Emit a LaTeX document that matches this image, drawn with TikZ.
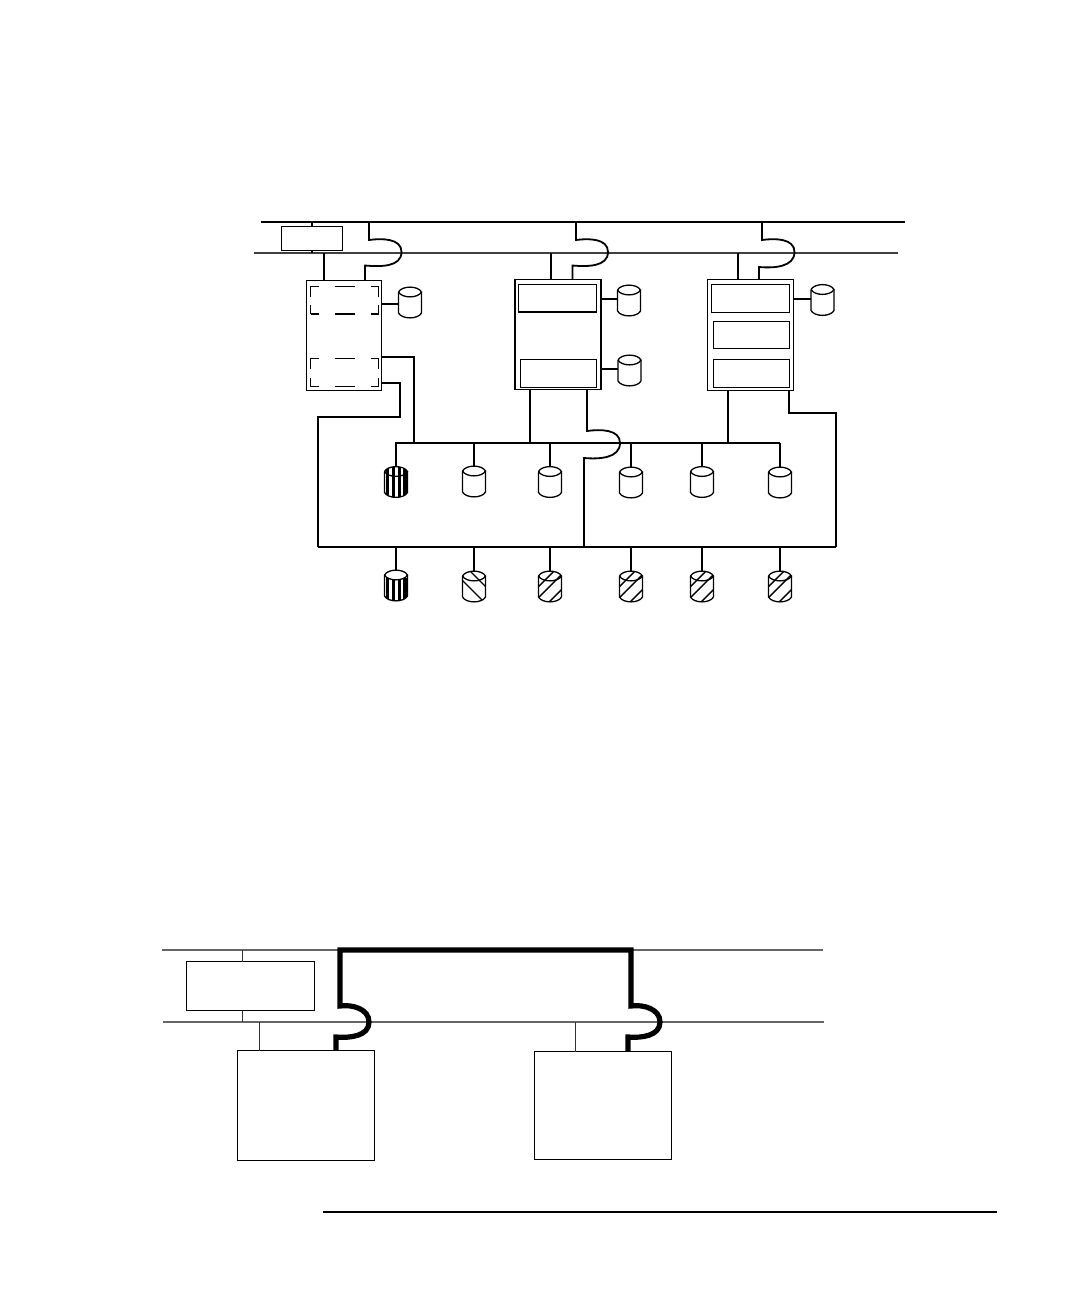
\documentclass[tikz,border=0pt]{standalone}
\usetikzlibrary{calc}
\newcommand{\bx}[6][plainbox]{\node[#1,minimum width=#5pt-#3pt,minimum height=#6pt-#4pt] (#2) at ({(#3+#5)/2},{(#4+#6)/2}) {};}
\newcommand{\cyl}[4]{%
  \node[cylspace] (#1) at (#2,#3+15.5) {};
  \begin{scope}[shift={(#2,#3)}]
    \begin{scope}
      \clip (-11.5,5) .. controls (-8,-1.5) and (8,-1.5) .. (11.5,5) -- (11.5,26) .. controls (8,32.5) and (-8,32.5) .. (-11.5,26) -- cycle;
      \ifnum#4=1
        \foreach \sx in {-10,-4.2,1.6,7.4}{\fill[black] (\sx,0) rectangle (\sx+3.1,32);}
      \fi
      \ifnum#4=2
        \foreach \sx in {-10,-4.2,1.6,7.4}{\fill[black] (\sx,8) rectangle (\sx+3.1,32);}
      \fi
      \ifnum#4=3
        \foreach \sk in {-4,-21}{\draw[hatch] (-14,-14-\sk) -- (14,14-\sk);}
      \fi
      \ifnum#4=4
        \foreach \sk in {4,15,30}{\draw[hatch] (-14,14+\sk) -- (14,-14+\sk);}
      \fi
    \end{scope}
    \draw[cylline] (-11.5,5) -- (-11.5,26) .. controls (-8,32.5) and (8,32.5) .. (11.5,26) -- (11.5,5);
    \ifnum#4=2 \fill[white] (-11.5,5) .. controls (-8,-1.5) and (8,-1.5) .. (11.5,5) .. controls (8,11.5) and (-8,11.5) .. (-11.5,5); \fi
    \draw[cylline] (-11.5,5) .. controls (-8,-1.5) and (8,-1.5) .. (11.5,5) .. controls (8,11.5) and (-8,11.5) .. (-11.5,5);
  \end{scope}}
\newcommand{\cornerbox}[5]{%
  \draw[dashseg] (#1+8,#2) -- (#1,#2) -- (#1,#2+10);
  \draw[dashseg] (#1+24,#2) -- (#1+44,#2);
  \draw[dashseg] (#3-8,#2) -- (#3,#2) -- (#3,#2+10);
  \draw[dashseg,line width=#5pt] (#1+8,#4) -- (#1,#4);
  \draw[dashseg] (#1,#4) -- (#1,#4-9);
  \draw[dashseg,line width=#5pt] (#1+24,#4) -- (#1+44,#4);
  \draw[dashseg,line width=#5pt] (#3-8,#4) -- (#3,#4);
  \draw[dashseg] (#3,#4) -- (#3,#4-9);}
\begin{document}
\begin{tikzpicture}[x=1pt,y=-1pt,
  plainbox/.style={draw,line width=1.2pt,inner sep=0pt,outer sep=0pt},
  heavybox/.style={draw,line width=1.8pt,inner sep=0pt,outer sep=0pt},
  cylspace/.style={minimum width=23pt,minimum height=31pt,inner sep=0pt,outer sep=0pt},
  link/.style={line width=1.8pt,line join=miter},
  busline/.style={line width=1.7pt},
  busgray/.style={line width=1.7pt,black!75},
  thinbus/.style={line width=1.3pt,black!60},
  thinlink/.style={line width=1.1pt,black!80},
  fatlink/.style={line width=5.2pt,line join=miter},
  cylline/.style={line width=1.3pt},
  hatch/.style={line width=1.4pt},
  dashseg/.style={line width=1pt},
  jumpin/.style={out=8,in=90},
  jumpout/.style={out=-90,in=-5}]
\useasboundingbox (0,0) rectangle (1080,1296);
\fill[white] (0,0) rectangle (1080,1296);

% upper buses
\coordinate (tl) at (261,222); \coordinate (tr) at (905,222);
\coordinate (ml) at (254,253); \coordinate (mr) at (898,253);
\coordinate (sl) at (395,443); \coordinate (sr) at (780,443);
\coordinate (bl) at (318,547); \coordinate (br) at (836,547);
\draw[busline] (tl) -- (tr);
\draw[busgray] (ml) -- (mr);

% upper boxes
\bx{conc}{281.5}{226.5}{342.5}{250.5}
\bx{srvA}{306.5}{280.5}{381.5}{390.5}
\bx[heavybox]{srvB}{515}{279.5}{601}{389.5}
\bx{srvC}{707.5}{279.5}{793.5}{390.5}
\bx[heavybox]{b1}{518.5}{284.5}{596.5}{312}
\bx{b2}{520.5}{359.5}{596.5}{387.5}
\bx[heavybox]{c1}{711.5}{284.5}{789.5}{312.5}
\bx{c2}{713.5}{321.5}{789.5}{348.5}
\bx{c3}{713.5}{359.5}{789.5}{387.5}
\cornerbox{310.5}{286.5}{378.5}{314}{1.6}
\cornerbox{310.5}{358.5}{378.5}{386.5}{1}

\draw[link] (conc.north) -- (conc.north |- tl);
\draw[link] (conc.south) -- (conc.south |- ml);

% stubs to the second bus
\coordinate (a1) at (324,0); \coordinate (a2) at (551,0); \coordinate (a3) at (738,0);
\draw[link] (a1 |- ml) -- (a1 |- srvA.north);
\draw[link] (a2 |- ml) -- (a2 |- srvB.north);
\draw[link] (a3 |- ml) -- (a3 |- srvC.north);

% jumps over the second bus
\coordinate (j1a) at (369,240); \coordinate (j1m) at (401.5,252); \coordinate (j1b) at (365,265.5);
\coordinate (j2a) at (576,240); \coordinate (j2m) at (608,252); \coordinate (j2b) at (572.5,265.5);
\coordinate (j3a) at (762,240); \coordinate (j3m) at (794.5,252); \coordinate (j3b) at (759,267);
\draw[link] (tl -| j1a) -- (j1a) to[jumpin] (j1m) to[jumpout] (j1b) -- (j1b |- srvA.north);
\draw[link] (tl -| j2a) -- (j2a) to[jumpin] (j2m) to[jumpout] (j2b) -- (j2b |- srvB.north);
\draw[link] (tl -| j3a) -- (j3a) to[jumpin] (j3m) to[jumpout] (j3b) -- (j3b |- srvC.north);

% local disks
\cyl{dA}{410}{287}{0}
\cyl{dB1}{629}{285}{0}
\cyl{dB2}{629.5}{355}{0}
\cyl{dC}{822.5}{284.5}{0}
\coordinate (pA) at (0,304); \coordinate (pB1) at (0,299); \coordinate (pB2) at (0,369); \coordinate (pC) at (0,299);
\draw[link] (srvA.east |- pA) -- (dA.west |- pA);
\draw[link] (srvB.east |- pB1) -- (dB1.west |- pB1);
\draw[link] (srvB.east |- pB2) -- (dB2.west |- pB2);
\draw[link] (srvC.east |- pC) -- (dC.west |- pC);

% lower buses
\draw[link] (sl) -- (sr);
\draw[link] (bl) -- (br);

% disks on the buses
\cyl{u1}{396}{466.5}{1}
\cyl{u2}{474}{466}{0}
\cyl{u3}{550}{466.5}{0}
\cyl{u4}{631}{467}{0}
\cyl{u5}{702}{466.5}{0}
\cyl{u6}{780}{467}{0}
\cyl{w1}{396}{570}{2}
\cyl{w2}{474}{571}{3}
\cyl{w3}{550}{571}{4}
\cyl{w4}{631}{571}{4}
\cyl{w5}{702}{571}{4}
\cyl{w6}{780}{571}{4}
\foreach \n in {u1,u2,u3,u4,u5,u6}{\draw[link] (\n.north) -- (\n.north |- sl);}
\foreach \n in {w1,w2,w3,w4,w5,w6}{\draw[link] (\n.north) -- (\n.north |- bl);}

% server A to buses
\coordinate (rA1) at (414,357);
\coordinate (rA2) at (400,383);
\coordinate (rA3) at (400,417);
\draw[link] (srvA.east |- rA1) -- (rA1) -- (rA1 |- sl);
\draw[link] (srvA.east |- rA2) -- (rA2) -- (rA3) -- (rA3 -| bl) -- (bl);

% server B to buses
\coordinate (q1) at (530,0);
\coordinate (j4a) at (587,431); \coordinate (j4m) at (620,443); \coordinate (j4b) at (584,458);
\draw[link] (q1 |- srvB.south) -- (q1 |- sl);
\draw[link] (j4a |- srvB.south) -- (j4a) to[jumpin] (j4m) to[jumpout] (j4b) -- (j4b |- bl);

% server C to buses
\coordinate (q2) at (728,0);
\coordinate (q3) at (789,413);
\draw[link] (q2 |- srvC.south) -- (q2 |- sl);
\draw[link] (q3 |- srvC.south) -- (q3) -- (q3 -| br) -- (br);

% lower diagram
\coordinate (Tl) at (162,950); \coordinate (Tr) at (823,950);
\coordinate (Ml) at (163,1022); \coordinate (Mr) at (824,1022);
\draw[thinbus] (Tl) -- (Tr);
\draw[thinbus] (Ml) -- (Mr);
\bx{Conc}{186.5}{961.5}{314.5}{1010.5}
\bx{SrvL}{237.5}{1050.5}{374.5}{1160.5}
\bx{SrvR}{534.5}{1051.5}{671.5}{1159.5}
\coordinate (s0) at (242.5,0);
\draw[thinlink] (s0 |- Tl) -- (s0 |- Conc.north);
\draw[thinlink] (s0 |- Conc.south) -- (s0 |- Ml);
\coordinate (s1) at (259.5,0); \coordinate (s2) at (575.5,0);
\draw[thinlink] (s1 |- Ml) -- (s1 |- SrvL.north);
\draw[thinlink] (s2 |- Ml) -- (s2 |- SrvR.north);
\coordinate (Ja) at (340,1006); \coordinate (Jm) at (369,1022); \coordinate (Jb) at (336,1037);
\coordinate (Ka) at (631,1006); \coordinate (Km) at (660,1022); \coordinate (Kb) at (628,1037);
\draw[fatlink] (Jb |- SrvL.north) -- (Jb) to[out=-5,in=-90] (Jm) to[out=90,in=8] (Ja) -- (Ja |- Tl) -- (Ka |- Tl) -- (Ka) to[jumpin] (Km) to[jumpout] (Kb) -- (Kb |- SrvR.north);

% rule at the foot of the page
\coordinate (Ra) at (323,1212); \coordinate (Rb) at (997,1212);
\draw[line width=1.8pt] (Ra) -- (Rb);
\end{tikzpicture}
\end{document}
